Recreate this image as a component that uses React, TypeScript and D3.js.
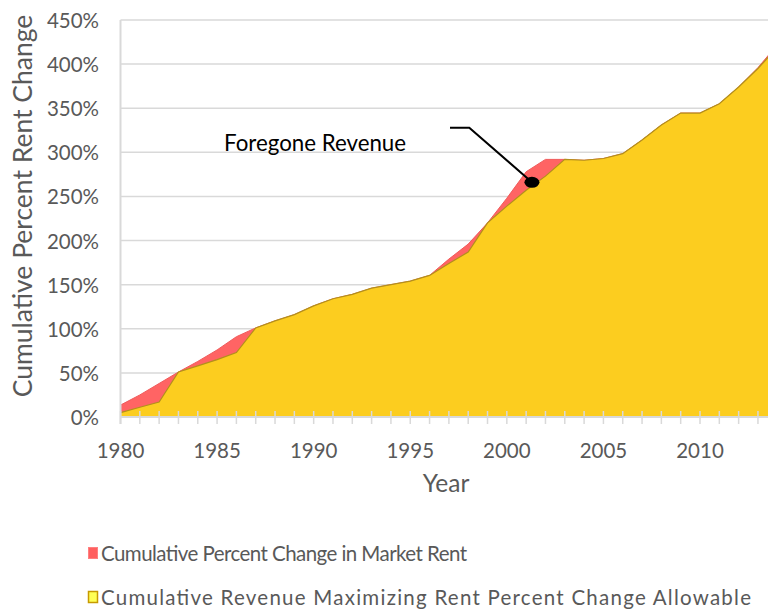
import React from "react";
import * as d3 from "d3";

const years: number[] = [
  1980, 1981, 1982, 1983, 1984, 1985, 1986, 1987, 1988, 1989, 1990, 1991,
  1992, 1993, 1994, 1995, 1996, 1997, 1998, 1999, 2000, 2001, 2002, 2003,
  2004, 2005, 2006, 2007, 2008, 2009, 2010, 2011, 2012, 2013, 2014,
];
const marketRent: number[] = [
  13.5, 25, 38, 51, 63, 76, 91, 101, 109, 116, 126, 134,
  139, 146, 150, 154, 160.5, 179, 196, 220, 248, 278, 292, 292,
  291, 293, 298.5, 314, 331, 344.5, 344.5, 355, 374, 396, 422,
];
const allowable: number[] = [
  5, 11, 17, 51, 58, 65, 73, 101, 109, 116, 126, 134,
  139, 146, 150, 154, 160.5, 174, 187, 220, 239, 257, 273, 292,
  291, 293, 298.5, 314, 331, 344.5, 344.5, 355, 374, 395, 419,
];
const yTicks: number[] = [0, 50, 100, 150, 200, 250, 300, 350, 400, 450];
const xLabelYears: number[] = [1980, 1985, 1990, 1995, 2000, 2005, 2010];
const legendLabels: string[] = [
  "Cumulative Percent Change in Market Rent",
  "Cumulative Revenue Maximizing Rent Percent Change Allowable",
];
const annotationText = "Foregone Revenue";
const annotationYear = 2001.3;
const annotationValue = 266;

const W = 768;
const H = 610;
const FONT = "Lato, 'Open Sans', sans-serif";

export default function App() {
  const x = d3.scaleLinear().domain([1980, 2010]).range([120.5, 700]);
  const y = d3.scaleLinear().domain([0, 450]).range([417, 20]);
  const plotRight = W;

  const redData = years.map((yr, i) => ({ yr, v: marketRent[i] }));
  const yelData = years.map((yr, i) => ({ yr, v: allowable[i] }));

  const area = d3
    .area<{ yr: number; v: number }>()
    .x((d) => x(d.yr))
    .y0(y(0))
    .y1((d) => y(d.v));
  const line = d3
    .line<{ yr: number; v: number }>()
    .x((d) => x(d.yr))
    .y((d) => y(d.v));

  const dotX = x(annotationYear);
  const dotY = y(annotationValue);

  return (
    <svg
      width={W}
      height={H}
      style={{ position: "absolute", left: 0, top: 0, background: "#fff" }}
      fontFamily={FONT}
    >
      {/* grid */}
      {yTicks.map((t) => (
        <line
          key={"g" + t}
          x1={x(1980)}
          x2={plotRight}
          y1={y(t)}
          y2={y(t)}
          stroke="#d9d9d9"
          strokeWidth={1.5}
        />
      ))}
      <g>
        <path d={area(redData) || ""} fill="#ff6464" />
        <path d={line(redData) || ""} fill="none" stroke="#f05a5a" strokeWidth={1} />
        <path d={area(yelData) || ""} fill="#fccd1f" />
        <path d={line(yelData) || ""} fill="none" stroke="#b3901c" strokeWidth={1.2} />
      </g>
      {/* axes */}
      <line x1={x(1980)} x2={x(1980)} y1={y(450)} y2={y(0) + 7} stroke="#d9d9d9" strokeWidth={2} />
      <line x1={x(1980)} x2={plotRight} y1={y(0)} y2={y(0)} stroke="#d9d9d9" strokeWidth={2} />
      {years.map((yr) => (
        <line
          key={"t" + yr}
          x1={x(yr)}
          x2={x(yr)}
          y1={y(0) - 6}
          y2={y(0) + 7}
          stroke="#d9d9d9"
          strokeWidth={1.5}
        />
      ))}
      {yTicks.map((t) => (
        <text
          key={"yl" + t}
          x={99}
          y={y(t)}
          textAnchor="end"
          dominantBaseline="central"
          fontSize={20.5}
          fill="#595959"
        >
          {t + "%"}
        </text>
      ))}
      {xLabelYears.map((yr) => (
        <text
          key={"xl" + yr}
          x={x(yr)}
          y={450}
          textAnchor="middle"
          dominantBaseline="central"
          fontSize={20.5}
          fill="#595959"
        >
          {yr}
        </text>
      ))}
      <text x={446} y={482} textAnchor="middle" dominantBaseline="central" fontSize={24.5} fill="#595959">
        Year
      </text>
      <text
        transform={`translate(22,206) rotate(-90)`}
        textAnchor="middle"
        dominantBaseline="central"
        fontSize={26.5}
        fill="#595959"
      >
        Cumulative Percent Rent Change
      </text>
      {/* annotation */}
      <text x={224} y={142} dominantBaseline="central" fontSize={22.3} fill="#000">
        {annotationText}
      </text>
      <polyline
        points={`450,127.7 469.3,127.7 ${dotX},${dotY}`}
        fill="none"
        stroke="#000"
        strokeWidth={2}
      />
      <ellipse cx={dotX} cy={dotY} rx={7.5} ry={5.5} fill="#000" />
      {/* legend */}
      <rect x={88.5} y={547.5} width={9} height={11} fill="#ff5f5f" stroke="#ff8080" strokeWidth={1} />
      <text
        x={101}
        y={553}
        dominantBaseline="central"
        fontSize={20.5}
        fill="#595959"
        textLength={366}
        lengthAdjust="spacing"
      >
        {legendLabels[0]}
      </text>
      <rect x={88.5} y={591.5} width={9} height={11} fill="#ffff55" stroke="#c79a00" strokeWidth={1.5} />
      <text
        x={101}
        y={597}
        dominantBaseline="central"
        fontSize={20.5}
        fill="#595959"
        textLength={650}
        lengthAdjust="spacing"
      >
        {legendLabels[1]}
      </text>
    </svg>
  );
}
